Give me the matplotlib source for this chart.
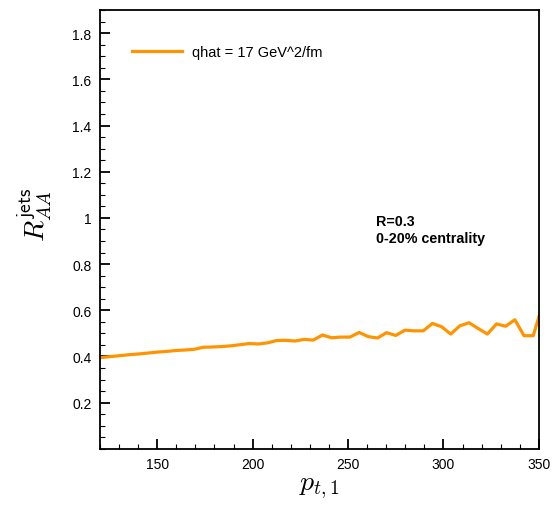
import matplotlib
matplotlib.use("Agg")
import matplotlib.pyplot as plt
from matplotlib.ticker import MultipleLocator

plt.rcParams['font.family'] = ['Liberation Sans', 'DejaVu Sans']
plt.rcParams['mathtext.fontset'] = 'cm'

# jet pt bins
pt = [116.6, 121.4, 126.2, 131.0, 135.8, 140.6, 145.4, 150.2, 155.0, 159.8,
      164.6, 169.4, 174.2, 179.0, 183.8, 188.6, 193.4, 198.2, 203.0, 207.8,
      212.6, 217.4, 222.2, 227.0, 231.8, 236.6, 241.4, 246.2, 251.0, 255.8,
      260.6, 265.4, 270.2, 275.0, 279.8, 284.6, 289.4, 294.2, 299.0, 303.8,
      308.6, 313.4, 318.2, 323.0, 327.8, 332.6, 337.4, 342.2, 347.0, 351.8]
raa = [0.392, 0.396, 0.400, 0.404, 0.408, 0.411, 0.415, 0.419, 0.422, 0.426,
       0.428, 0.431, 0.440, 0.441, 0.443, 0.446, 0.451, 0.456, 0.454, 0.459,
       0.469, 0.470, 0.467, 0.474, 0.471, 0.493, 0.481, 0.484, 0.484, 0.504,
       0.486, 0.480, 0.503, 0.491, 0.514, 0.511, 0.511, 0.543, 0.529, 0.497,
       0.533, 0.546, 0.521, 0.497, 0.541, 0.531, 0.559, 0.490, 0.490, 0.620]

fig = plt.figure(figsize=(5.55, 5.06), dpi=100)
ax = fig.add_axes([0.180, 0.111, 0.791, 0.867])

ax.plot(pt, raa, color='#ff9400', lw=2.3, label='qhat = 17 GeV^2/fm')

ax.set_xlim(120, 350)
ax.set_ylim(0, 1.9)
ax.xaxis.set_major_locator(MultipleLocator(50))
ax.xaxis.set_minor_locator(MultipleLocator(10))
ax.yaxis.set_major_locator(MultipleLocator(0.2))
ax.yaxis.set_minor_locator(MultipleLocator(0.05))
ax.set_yticks([0.2, 0.4, 0.6, 0.8, 1.0, 1.2, 1.4, 1.6, 1.8])
ax.set_yticklabels(['0.2', '0.4', '0.6', '0.8', '1', '1.2', '1.4', '1.6', '1.8'])
ax.set_xticks([150, 200, 250, 300, 350])

ax.tick_params(which='both', direction='in', top=False, right=False, labelsize=10, pad=6)
ax.tick_params(which='major', length=7, width=1.3)
ax.tick_params(which='minor', length=3.5, width=0.8)
for s in ax.spines.values():
    s.set_linewidth(1.3)

ax.set_xlabel(r'$p_{t,1}$', fontsize=20, labelpad=2)
ax.set_ylabel(r'$R_{AA}^{\mathsf{jets}}$', fontsize=20)
ax.yaxis.set_label_coords(-0.104, 0.535)

ax.legend(loc='upper left', bbox_to_anchor=(0.073, 0.921), frameon=False,
          fontsize=10.5, handlelength=3.4, handletextpad=0.75,
          borderpad=0, borderaxespad=0)

ax.text(0.63, 0.535, 'R=0.3\n0-20% centrality', transform=ax.transAxes,
        fontsize=10.3, fontweight='bold', va='top', linespacing=1.25)

fig.savefig('out.png', dpi=100)
